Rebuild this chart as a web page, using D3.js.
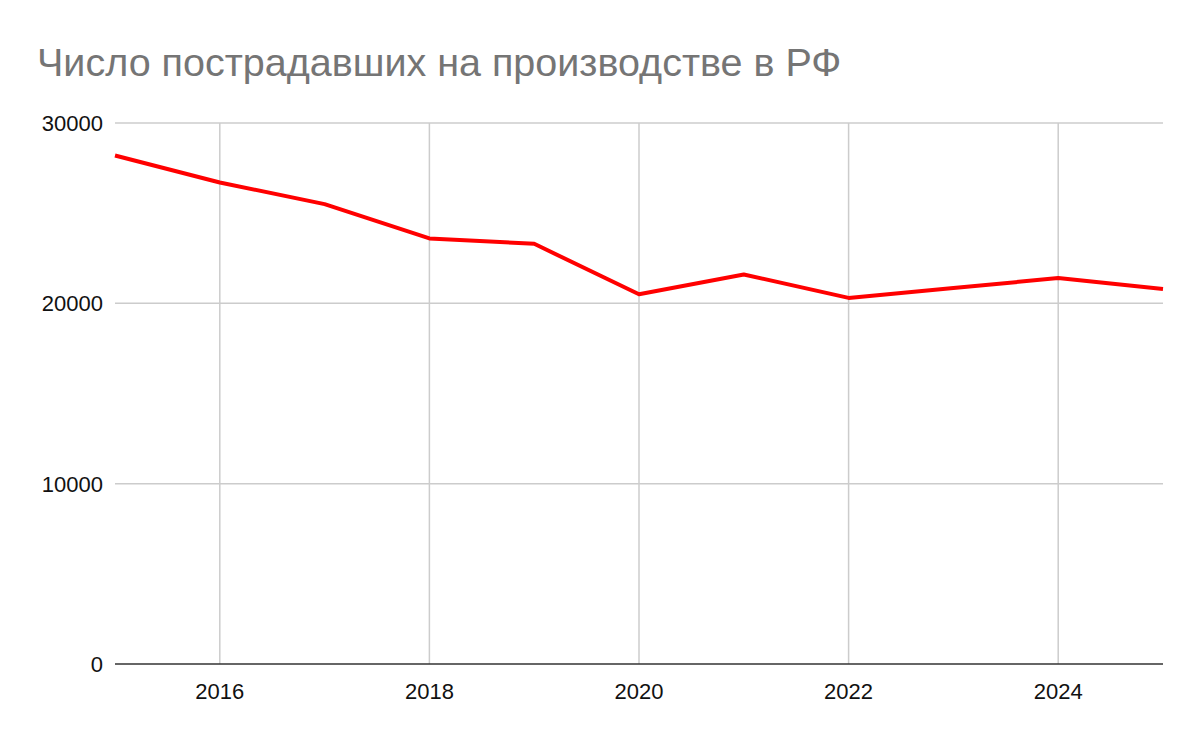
<!DOCTYPE html>
<html>
<head>
<meta charset="utf-8">
<script src="https://cdn.jsdelivr.net/npm/d3@7"></script>
<style>
  body { margin: 0; background: #fff; }
  text { font-family: "Liberation Sans", Arial, sans-serif; }
</style>
</head>
<body>
<svg id="chart" width="1200" height="742"></svg>
<script>
const years = [2015, 2016, 2017, 2018, 2019, 2020, 2021, 2022, 2023, 2024, 2025]
const victims = [28200, 26700, 25500, 23600, 23300, 20500, 21600, 20300, 20850, 21400, 20800]
const xTicks = [2016, 2018, 2020, 2022, 2024]
const yTicks = [0, 10000, 20000, 30000]
const title = 'Число пострадавших на производстве в РФ'

const margin = { top: 123, right: 37, bottom: 78, left: 115 }
const width = 1200, height = 742
const svg = d3.select('#chart')

const x = d3.scaleLinear().domain([2015, 2025]).range([margin.left, width - margin.right])
const y = d3.scaleLinear().domain([0, 30000]).range([height - margin.bottom, margin.top])

svg.append('text')
  .attr('x', 37).attr('y', 76)
  .attr('font-size', 39.5).attr('fill', '#757575')
  .text(title)

// gridlines
svg.append('g').selectAll('line.h').data(yTicks.filter(d => d > 0)).join('line')
  .attr('x1', margin.left).attr('x2', width - margin.right)
  .attr('y1', d => y(d)).attr('y2', d => y(d))
  .attr('stroke', '#cccccc').attr('stroke-width', 1.5)
svg.append('g').selectAll('line.v').data(xTicks).join('line')
  .attr('x1', d => x(d)).attr('x2', d => x(d))
  .attr('y1', margin.top).attr('y2', y(0))
  .attr('stroke', '#cccccc').attr('stroke-width', 1.5)

// y labels
svg.append('g').selectAll('text').data(yTicks).join('text')
  .attr('x', 103).attr('y', d => y(d) + 8)
  .attr('text-anchor', 'end').attr('font-size', 22).attr('fill', '#111')
  .text(d => d)

// x labels
svg.append('g').selectAll('text').data(xTicks).join('text')
  .attr('x', d => x(d)).attr('y', 699)
  .attr('text-anchor', 'middle').attr('font-size', 22).attr('fill', '#111')
  .text(d => d)

// baseline
svg.append('line')
  .attr('x1', margin.left).attr('x2', width - margin.right)
  .attr('y1', y(0)).attr('y2', y(0))
  .attr('stroke', '#333').attr('stroke-width', 1.5)

const line = d3.line().x((d, i) => x(years[i])).y(d => y(d))
svg.append('path')
  .datum(victims)
  .attr('d', line)
  .attr('fill', 'none').attr('stroke', '#ff0000').attr('stroke-width', 4)
  .attr('stroke-linejoin', 'round')
</script>
</body>
</html>
